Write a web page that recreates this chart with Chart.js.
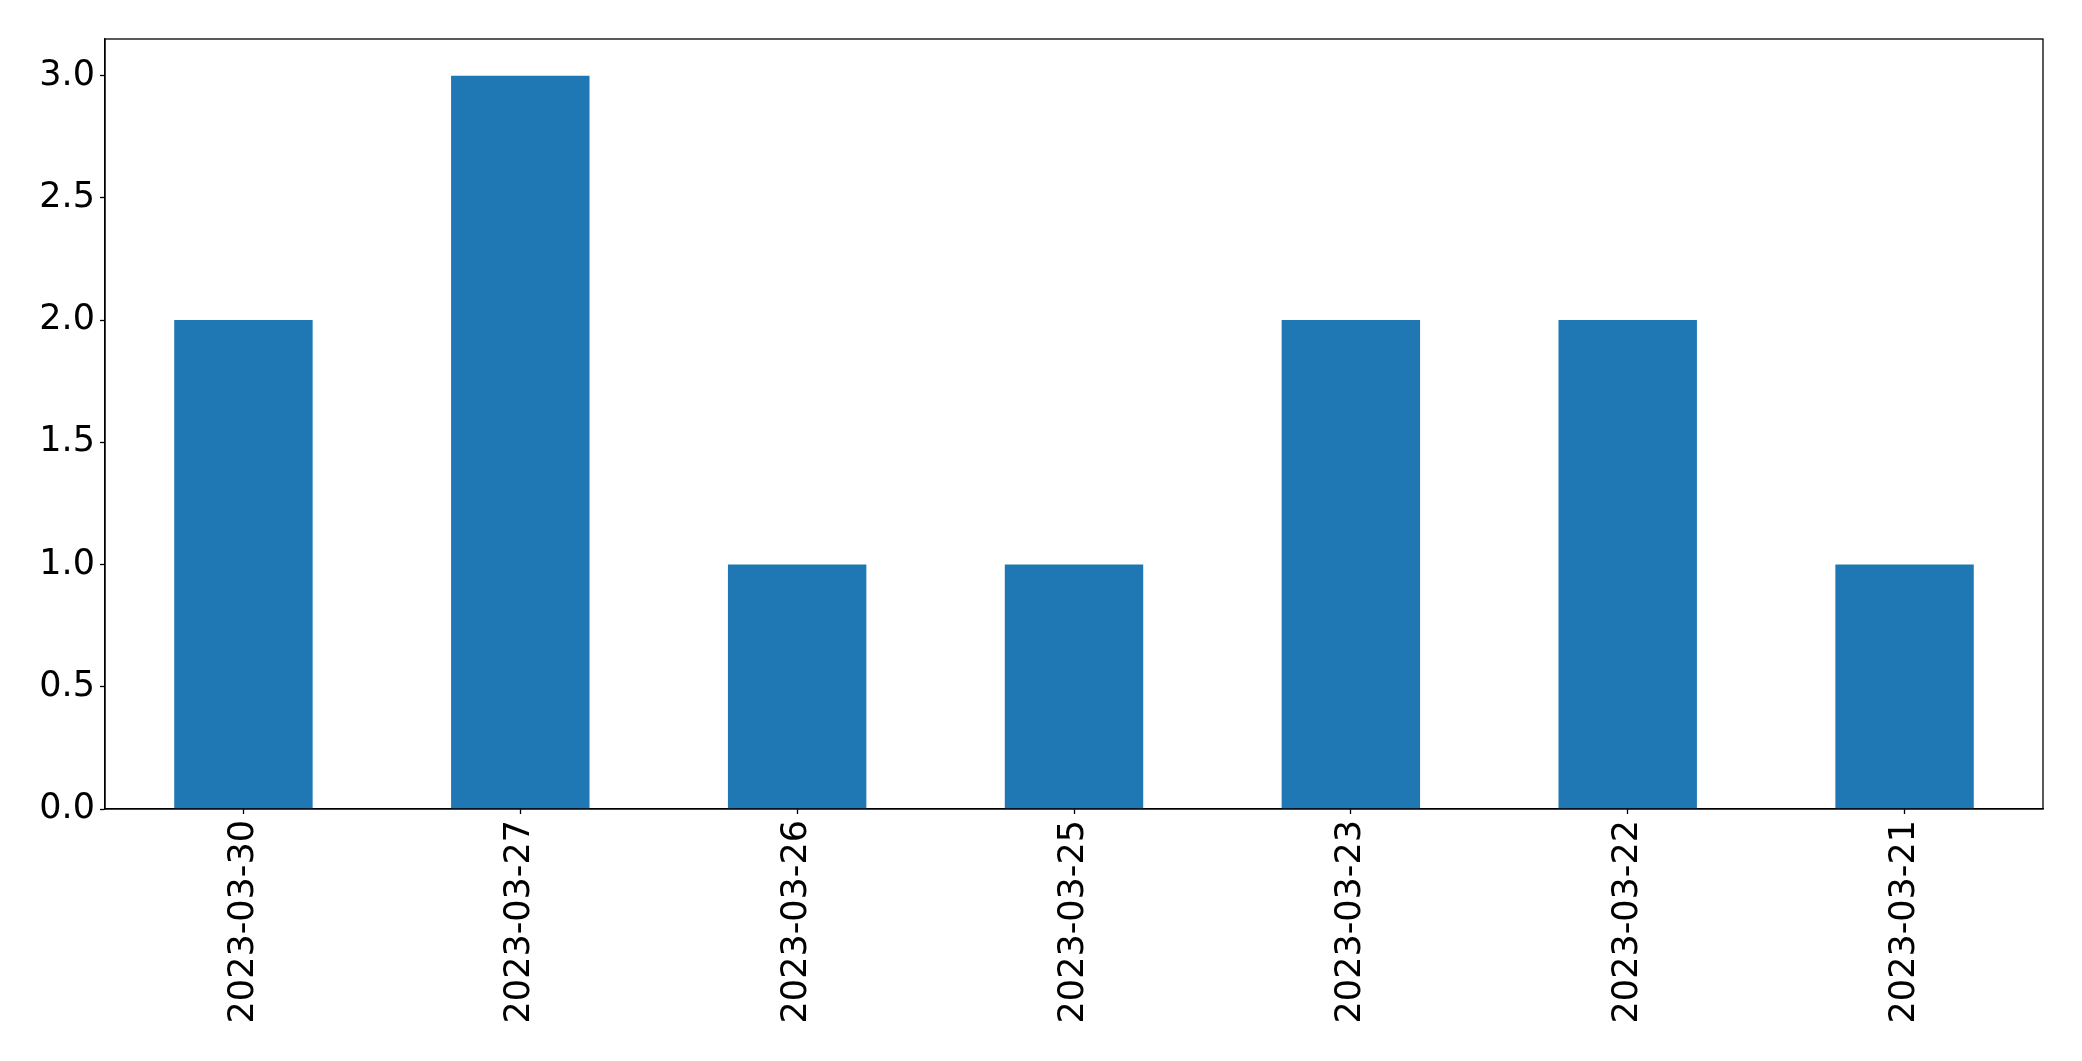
<!DOCTYPE html>
<html>
<head>
<meta charset="utf-8">
<script src="https://cdn.jsdelivr.net/npm/chart.js@4/dist/chart.umd.min.js"></script>
<style>
  html, body { margin: 0; padding: 0; background: #fff; }
  #wrap { width: 2082px; height: 1061px; }
</style>
</head>
<body>
<div id="wrap"><canvas id="chart" width="2082" height="1061"></canvas></div>
<script>
const dates = ["2023-03-30", "2023-03-27", "2023-03-26", "2023-03-25", "2023-03-23", "2023-03-22", "2023-03-21"]
const counts = [2, 3, 1, 1, 2, 2, 1]
const yTicks = [0, 0.5, 1, 1.5, 2, 2.5, 3]

const tickFont = { family: "DejaVu Sans", size: 35 }

// top and right spines, like the matplotlib frame
const frame = {
  id: "frame",
  afterDraw(chart) {
    const { ctx, chartArea: a } = chart
    ctx.save()
    ctx.strokeStyle = "#000"
    ctx.lineWidth = 1.3
    ctx.strokeRect(a.left, a.top, a.right - a.left, a.bottom - a.top)
    ctx.restore()
  },
}

new Chart(document.getElementById("chart"), {
  type: "bar",
  data: {
    labels: dates,
    datasets: [
      {
        data: counts,
        backgroundColor: "#1f77b4",
        borderWidth: 0,
        categoryPercentage: 1,
        barPercentage: 0.5,
      },
    ],
  },
  options: {
    responsive: false,
    animation: false,
    layout: { padding: { top: 39, right: 39, left: 0, bottom: 0 } },
    plugins: { legend: { display: false }, tooltip: { enabled: false } },
    scales: {
      x: {
        offset: true,
        grid: { offset: false, drawOnChartArea: false, tickLength: 5, tickColor: "#000", tickWidth: 1.3 },
        border: { color: "#000", width: 1.3 },
        ticks: { color: "#000", font: tickFont, minRotation: 90, maxRotation: 90, padding: 6 },
        afterFit: (scale) => { scale.height = 252 },
      },
      y: {
        min: 0,
        max: 3.15,
        grid: { drawOnChartArea: false, tickLength: 5, tickColor: "#000", tickWidth: 1.3 },
        border: { color: "#000", width: 1.3 },
        afterBuildTicks: (scale) => { scale.ticks = yTicks.map((v) => ({ value: v })) },
        ticks: { color: "#000", font: tickFont, padding: 5, callback: (v) => Number(v).toFixed(1) },
        afterFit: (scale) => { scale.width = 105 },
      },
    },
  },
  plugins: [frame],
})
</script>
</body>
</html>
